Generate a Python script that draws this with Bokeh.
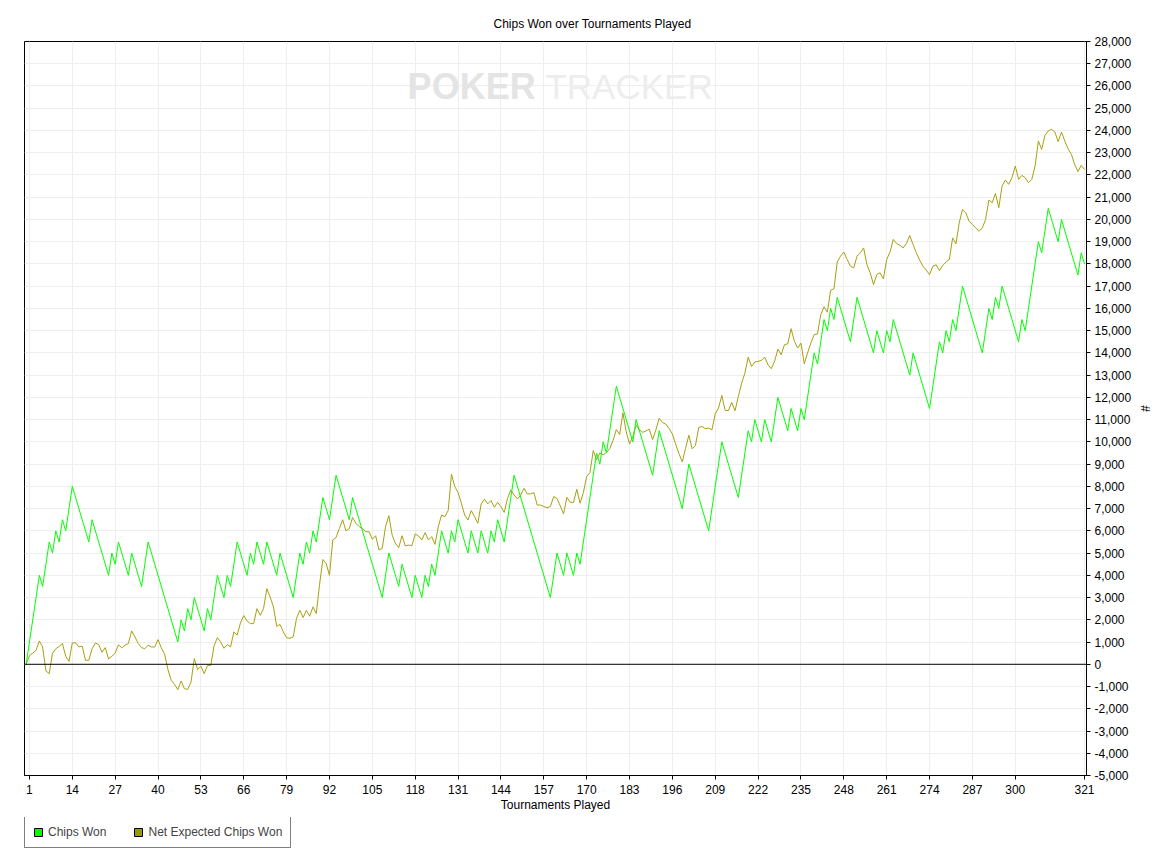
from bokeh.plotting import figure
from bokeh.layouts import column
from bokeh.models import (Range1d, FixedTicker, NumeralTickFormatter, Span, Legend,
                          LegendItem, Label)
from bokeh.embed import file_html
from bokeh.resources import INLINE

# ---------------- data ----------------
x_ticks = [1, 14, 27, 40, 53, 66, 79, 92, 105, 118, 131, 144, 157, 170, 183, 196,
           209, 222, 235, 248, 261, 274, 287, 300, 321]
y_ticks = list(range(-5000, 28001, 1000))

# Chips Won: turning points of the cumulative line (tournament, chips)
chips_won_t = [0, 4, 5, 7, 8, 9, 10, 11, 12, 14, 19, 20, 25, 26, 27, 28, 31, 32, 35, 37,
               46, 47, 48, 49, 50, 51, 54, 55, 56, 58, 60, 61, 62, 64, 67, 68, 69, 70, 72,
               73, 76, 77, 81, 83, 84, 85, 86, 87, 88, 90, 92, 94, 98, 99, 108, 110, 113,
               114, 117, 118, 120, 121, 122, 123, 124, 126, 128, 129, 130, 131, 134, 135,
               137, 138, 140, 141, 142, 143, 145, 148, 159, 161, 163, 164, 166, 167, 168,
               173, 174, 175, 176, 179, 184, 185, 190, 192, 199, 201, 207, 211, 216, 219,
               220, 221, 223, 224, 226, 228, 231, 232, 234, 235, 236, 239, 240, 242, 243,
               244, 245, 246, 250, 252, 257, 258, 260, 261, 262, 263, 268, 269, 274, 277,
               278, 279, 280, 281, 282, 284, 290, 292, 293, 294, 295, 296, 301, 302, 303,
               307, 308, 310, 313, 314, 319, 320, 321]
chips_won_v = [0, 4000, 3500, 5500, 5000, 6000, 5500, 6500, 6000, 8000, 5500, 6500, 4000,
               5000, 4500, 5500, 4000, 5000, 3500, 5500, 1000, 2000, 1500, 2500, 2000, 3000,
               1500, 2500, 2000, 4000, 3000, 4000, 3500, 5500, 4000, 5000, 4500, 5500, 4500,
               5500, 4000, 5000, 3000, 5000, 4500, 5500, 5000, 6000, 5500, 7500, 6500, 8500,
               6500, 7500, 3000, 5000, 3500, 4500, 3000, 4000, 3000, 4000, 3500, 4500, 4000,
               6000, 5000, 6000, 5500, 6500, 5000, 6000, 5000, 6000, 5000, 6000, 5500, 6500,
               5500, 8500, 3000, 5000, 4000, 5000, 4000, 5000, 4500, 9500, 9000, 10000, 9500,
               12500, 10000, 11000, 8500, 10500, 7000, 9000, 6000, 10000, 7500, 10500, 10000,
               11000, 10000, 11000, 10000, 12000, 10500, 11500, 10500, 11500, 11000, 14000,
               13500, 15500, 15000, 16000, 15500, 16500, 14500, 16500, 14000, 15000, 14000,
               15000, 14500, 15500, 13000, 14000, 11500, 14500, 14000, 15000, 14500, 15500,
               15000, 17000, 14000, 16000, 15500, 16500, 16000, 17000, 14500, 15500, 15000,
               19000, 18500, 20500, 19000, 20000, 17500, 18500, 18000]

# Net Expected Chips Won: one value per tournament 0..321
net_expected_t = list(range(0, 322))
net_expected_v = [
    0, 390, 500, 630, 1050, 780, -300, -420, 500, 700,
    800, 930, 360, 130, 960, 960, 780, 820, 180, 180,
    700, 960, 880, 540, 750, 240, 360, 500, 880, 740,
    860, 930, 1500, 1230, 930, 750, 700, 860, 780, 780,
    1110, 740, 450, -240, -720, -900, -1140, -750, -1100, -1130,
    -800, 260, -240, -90, -420, -50, -50, 840, 1200, 1000,
    720, 890, 780, 1460, 1310, 1860, 2190, 1950, 1830, 1830,
    2500, 2200, 2500, 3400, 3030, 2580, 1710, 1790, 1460, 1190,
    1170, 1230, 2060, 2430, 2100, 2430, 2160, 2580, 2280, 3600,
    4710, 4530, 4000, 5590, 5700, 6100, 6500, 6000, 6100, 6600,
    6340, 6190, 6100, 5960, 5960, 5620, 5780, 5140, 5210, 6190,
    6680, 5810, 5440, 5240, 5780, 5320, 5360, 5330, 5860, 5770,
    5590, 5920, 5590, 5740, 5390, 6190, 6710, 6640, 6910, 8540,
    7990, 7720, 7240, 6710, 6490, 6910, 6640, 6340, 7210, 7420,
    7210, 7360, 7060, 7280, 7090, 6830, 7460, 7840, 7610, 7430,
    7610, 7910, 7660, 7660, 7720, 7160, 7160, 7090, 7040, 7090,
    7540, 7450, 7120, 6760, 7510, 7280, 7280, 7870, 7240, 7720,
    8440, 8620, 9610, 9200, 9500, 9410, 9520, 9700, 10060, 10550,
    10330, 11300, 10450, 9900, 10250, 10750, 10540, 10430, 10490, 10570,
    10100, 10540, 11060, 10870, 10800, 10600, 10350, 9900, 9470, 9100,
    9710, 10300, 9690, 9840, 10650, 10690, 10590, 10620, 10540, 11260,
    11520, 12090, 11410, 11410, 11770, 11400, 12040, 12640, 13090, 13810,
    13390, 13590, 13620, 13660, 13810, 13470, 13290, 13620, 14170, 13920,
    14370, 14410, 15090, 14520, 14220, 14440, 13510, 14000, 14440, 14820,
    14850, 15720, 16070, 15830, 16820, 16880, 18090, 18350, 18530, 18200,
    17900, 17820, 18350, 18500, 18720, 17970, 17600, 17070, 17520, 17600,
    17330, 18200, 18530, 19100, 18920, 18840, 18720, 18920, 19280, 18870,
    18500, 18170, 17900, 17720, 17520, 17900, 17960, 17700, 17930, 18090,
    18200, 19170, 18900, 19850, 20450, 20300, 19920, 19770, 19620, 19470,
    19620, 20000, 20870, 20750, 21170, 20530, 21500, 21770, 21580, 21880,
    22400, 21800, 21980, 21880, 21650, 21800, 22400, 23530, 23150, 23780,
    23980, 24050, 23930, 23500, 23930, 23530, 23180, 22930, 22480, 22150,
    22430, 22250]

series_names = ["Chips Won", "Net Expected Chips Won"]
title_text = "Chips Won over Tournaments Played"
x_label = "Tournaments Played"
y_label = "#"

GREEN = "#00FF00"
OLIVE_LINE = "#A8A010"
OLIVE = "#999900"
FONT = "Liberation Sans"

# ---------------- main figure ----------------
p = figure(frame_width=1062, frame_height=734,
           x_range=Range1d(-0.5, 321.6), y_range=Range1d(-5000, 28000),
           y_axis_location="right", output_backend="svg", toolbar_location=None,
           min_border_left=24, min_border_top=41, min_border_bottom=42,
           min_border_right=10)
p.background_fill_color = "white"
p.border_fill_color = "white"
p.outline_line_color = "black"
p.outline_line_width = 1

# title
p.title.text = title_text
p.title.align = "left"
p.title.offset = 469
p.title.text_font = FONT
p.title.text_font_size = "12px"
p.title.text_font_style = "normal"
p.title.text_color = "black"
p.title.standoff = 21

# axes
for ax in (p.xaxis[0], p.yaxis[0]):
    ax.axis_line_color = "black"
    ax.major_tick_line_color = "black"
    ax.major_tick_out = 4
    ax.major_tick_in = 0
    ax.minor_tick_line_color = None
    ax.major_label_text_font = FONT
    ax.major_label_text_font_size = "12px"
    ax.major_label_text_color = "black"
    ax.axis_label_text_font = FONT
    ax.axis_label_text_font_size = "12px"
    ax.axis_label_text_font_style = "normal"
    ax.axis_label_text_color = "black"

p.xaxis.ticker = FixedTicker(ticks=x_ticks)
p.xaxis.major_label_standoff = 5
p.xaxis.axis_label = x_label
p.xaxis.axis_label_standoff = 1

p.yaxis.ticker = FixedTicker(ticks=y_ticks)
p.yaxis.formatter = NumeralTickFormatter(format="0,0")
p.yaxis.major_label_standoff = 4
p.yaxis.axis_label = y_label
p.yaxis.axis_label_standoff = 4

p.xgrid.grid_line_color = "#EEEEEE"
p.ygrid.grid_line_color = "#EEEEEE"

# watermark
p.add_layout(Label(x=115.7, y=25960, text="POKER", text_font=FONT,
                   text_font_size="36px", text_font_style="bold", text_color="#E4E4E4",
                   text_baseline="middle", level="underlay"))
p.add_layout(Label(x=157.5, y=25960, text="TRACKER", text_font=FONT,
                   text_font_size="35px", text_color="#EDEDED",
                   text_baseline="middle", level="underlay"))

# zero line
p.add_layout(Span(location=0, dimension="width", line_color="black", line_width=1))

# series
p.line(net_expected_t, net_expected_v, line_color=OLIVE_LINE, line_width=1)
p.line(chips_won_t, chips_won_v, line_color=GREEN, line_width=1)

# ---------------- legend strip ----------------
lg = figure(width=700, height=35, x_range=Range1d(0, 1), y_range=Range1d(0, 1),
            x_axis_location=None, y_axis_location=None, output_backend="svg",
            toolbar_location=None, min_border_left=24, min_border_right=0,
            min_border_top=0, min_border_bottom=4)
lg.grid.visible = False
lg.outline_line_color = None
lg.background_fill_color = "white"
lg.border_fill_color = "white"
# swatch renderers: their boxes lie outside the strip's visible range
r_g = lg.quad(left=[5], right=[6], top=[6], bottom=[5], fill_color=GREEN, line_color="black")
r_o = lg.quad(left=[5], right=[6], top=[6], bottom=[5], fill_color=OLIVE, line_color="black")
legend = Legend(items=[LegendItem(label=series_names[0], renderers=[r_g]),
                       LegendItem(label=series_names[1], renderers=[r_o])],
                orientation="horizontal", location=(0, 0), margin=0, padding=8,
                spacing=27, label_standoff=5, glyph_width=10, glyph_height=10,
                label_height=10, label_text_font=FONT, label_text_font_size="12px",
                border_line_color="black", border_line_width=1,
                background_fill_color="white", background_fill_alpha=1.0)
lg.add_layout(legend)

layout = column(p, lg, spacing=0)
open("out.html", "w").write(file_html(layout, INLINE))
